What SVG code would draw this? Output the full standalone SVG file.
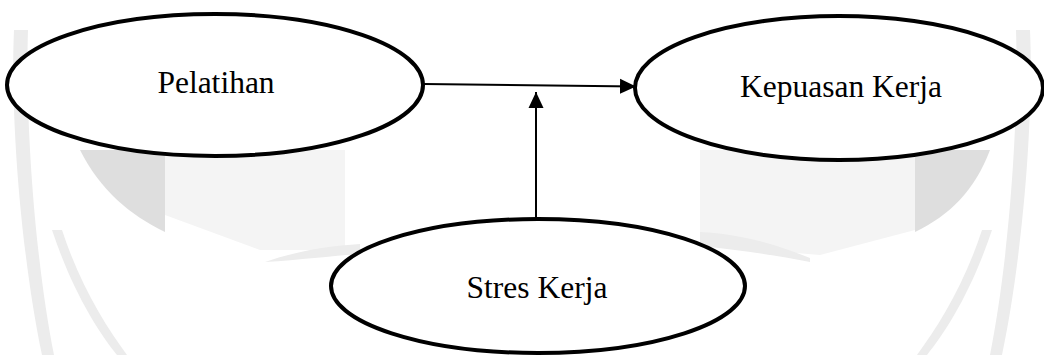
<svg xmlns="http://www.w3.org/2000/svg" width="1044" height="355" viewBox="0 0 1044 355">
  <style>
    .node { fill: #ffffff; stroke: #000000; stroke-width: 4; }
    .label { font-family: "Liberation Serif", "Times New Roman", serif; font-size: 31.5px; fill: #000000; text-anchor: middle; }
    .edge { stroke: #000000; stroke-width: 2; fill: none; }
    .wm-dark { fill: #dedede; }
    .wm-mid { fill: #ececec; }
    .wm-light { fill: #f4f4f4; }
  </style>
  <defs>
    <marker id="arrow" markerUnits="userSpaceOnUse" markerWidth="16" markerHeight="16" viewBox="0 0 16 16" refX="16" refY="8" orient="auto">
      <path d="M0,0.5 L16,8 L0,15.5 Z" fill="#000000"/>
    </marker>
  </defs>
  <rect width="1044" height="355" fill="#ffffff"/>
  <g id="watermark">
    <path class="wm-light" d="M165,150 L345,150 L345,250 L260,250 L165,215 Z"/>
    <path class="wm-dark" d="M80,150 L165,150 L165,232 C130,215 100,190 80,150 Z"/>
    <path class="wm-light" d="M700,150 L915,150 L915,230 L820,255 L700,245 Z"/>
    <path class="wm-dark" d="M915,150 L990,150 C975,190 950,215 915,232 Z"/>
    <path class="wm-mid" d="M14,30 C10,120 22,260 42,355 L54,355 C35,260 25,120 28,30 Z"/>
    <path class="wm-mid" d="M52,230 C72,290 97,330 117,355 L127,355 C105,325 80,285 62,230 Z"/>
    <path class="wm-mid" d="M1030,30 C1034,120 1022,260 1002,355 L990,355 C1009,260 1019,120 1016,30 Z"/>
    <path class="wm-mid" d="M992,230 C972,290 947,330 927,355 L917,355 C939,325 964,285 982,230 Z"/>
    <path class="wm-mid" d="M265,262 C300,250 330,246 360,244 L360,254 C330,256 300,260 265,262 Z"/>
    <path class="wm-mid" d="M700,232 C740,234 775,244 810,258 L810,262 C775,255 740,250 700,246 Z"/>
  </g>
  <g id="connectors">
    <line class="edge" x1="424" y1="84" x2="636" y2="86.5" marker-end="url(#arrow)"/>
    <line class="edge" x1="536" y1="218" x2="536" y2="92" marker-end="url(#arrow)"/>
  </g>
  <g id="node-pelatihan">
    <ellipse class="node" cx="215" cy="85" rx="208" ry="71"/>
    <text class="label" x="216" y="93">Pelatihan</text>
  </g>
  <g id="node-kepuasan">
    <ellipse class="node" cx="839" cy="88" rx="204" ry="72"/>
    <text class="label" x="841" y="97">Kepuasan Kerja</text>
  </g>
  <g id="node-stres">
    <ellipse class="node" cx="538" cy="286" rx="207" ry="67"/>
    <text class="label" x="537" y="298">Stres Kerja</text>
  </g>
</svg>
